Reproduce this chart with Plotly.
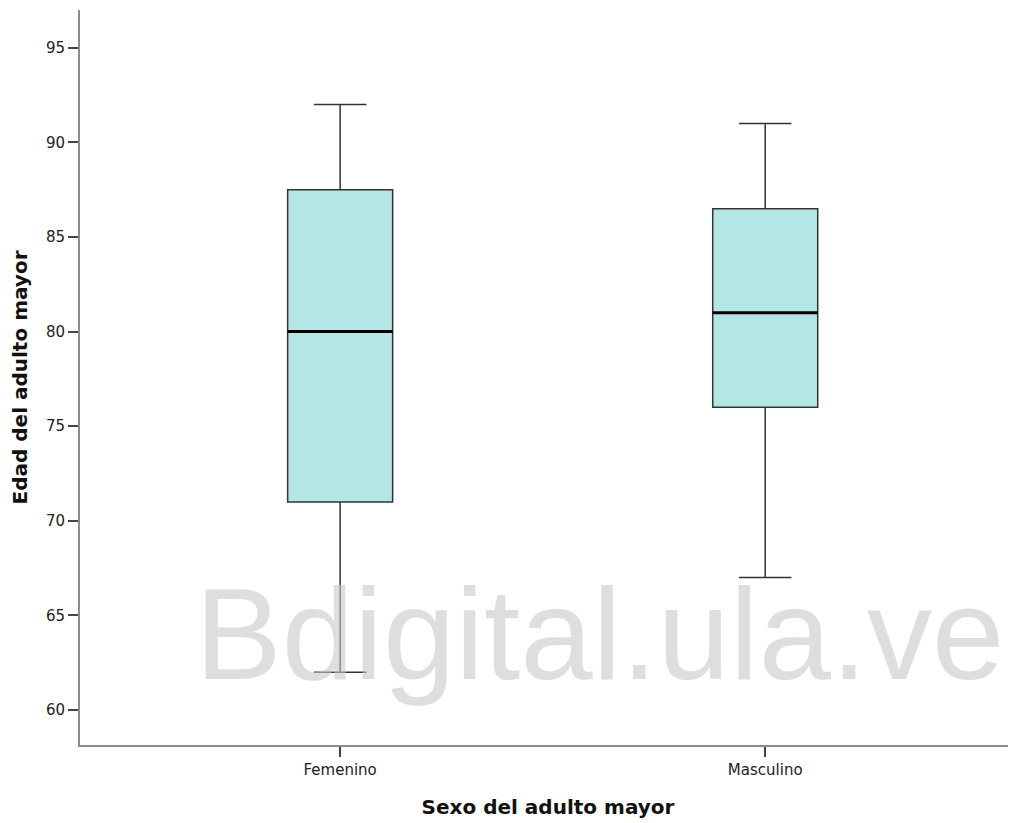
import plotly.graph_objects as go

categories = ["Femenino", "Masculino"]
lower_whisker = [62, 67]
q1 = [71, 76]
median = [80, 81]
q3 = [87.5, 86.5]
upper_whisker = [92, 91]
y_ticks = [60, 65, 70, 75, 80, 85, 90, 95]

xpos = list(range(len(categories)))
box_w = 0.247
FONT = "DejaVu Sans, Verdana, sans-serif"

fig = go.Figure()
fig.add_trace(go.Box(
    x=xpos, q1=q1, median=median, q3=q3,
    lowerfence=lower_whisker, upperfence=upper_whisker,
    width=box_w, whiskerwidth=0.5,
    fillcolor="#b4e6e6",
    line=dict(color="#333333", width=1.5),
    boxpoints=False, hoverinfo="skip", showlegend=False,
))
# thicker median lines
for xp, m in zip(xpos, median):
    fig.add_trace(go.Scatter(
        x=[xp - box_w / 2, xp + box_w / 2], y=[m, m], mode="lines",
        line=dict(color="black", width=3), showlegend=False, hoverinfo="skip",
    ))

fig.add_annotation(
    text="Bdigital.ula.ve", xref="paper", yref="paper",
    x=0.555, y=0.151, xanchor="center", yanchor="middle",
    showarrow=False,
    font=dict(family="Liberation Sans, Arial, sans-serif", size=130, color="rgba(200,200,200,0.6)"),
)

axis_common = dict(
    showgrid=False, zeroline=False, showline=True, linecolor="#8c8c8c", linewidth=2,
    ticks="outside", tickcolor="#444444", ticklen=10, tickwidth=2,
    tickfont=dict(family=FONT, size=15, color="#222222"),
)
fig.update_xaxes(
    **axis_common, range=[-0.612, 1.59], tickvals=xpos, ticktext=categories,
    title=dict(text="<b>Sexo del adulto mayor</b>", standoff=22,
               font=dict(family=FONT, size=20, color="#111111")),
)
fig.update_yaxes(
    **axis_common, range=[58.15, 97.0], tickvals=y_ticks,
    title=dict(text="<b>Edad del adulto mayor</b>", standoff=18,
               font=dict(family=FONT, size=20, color="#111111")),
)
fig.update_layout(
    width=1008, height=815, margin=dict(l=72, r=0, t=2, b=78),
    plot_bgcolor="white", paper_bgcolor="white",
)
fig.write_html("out.html")
